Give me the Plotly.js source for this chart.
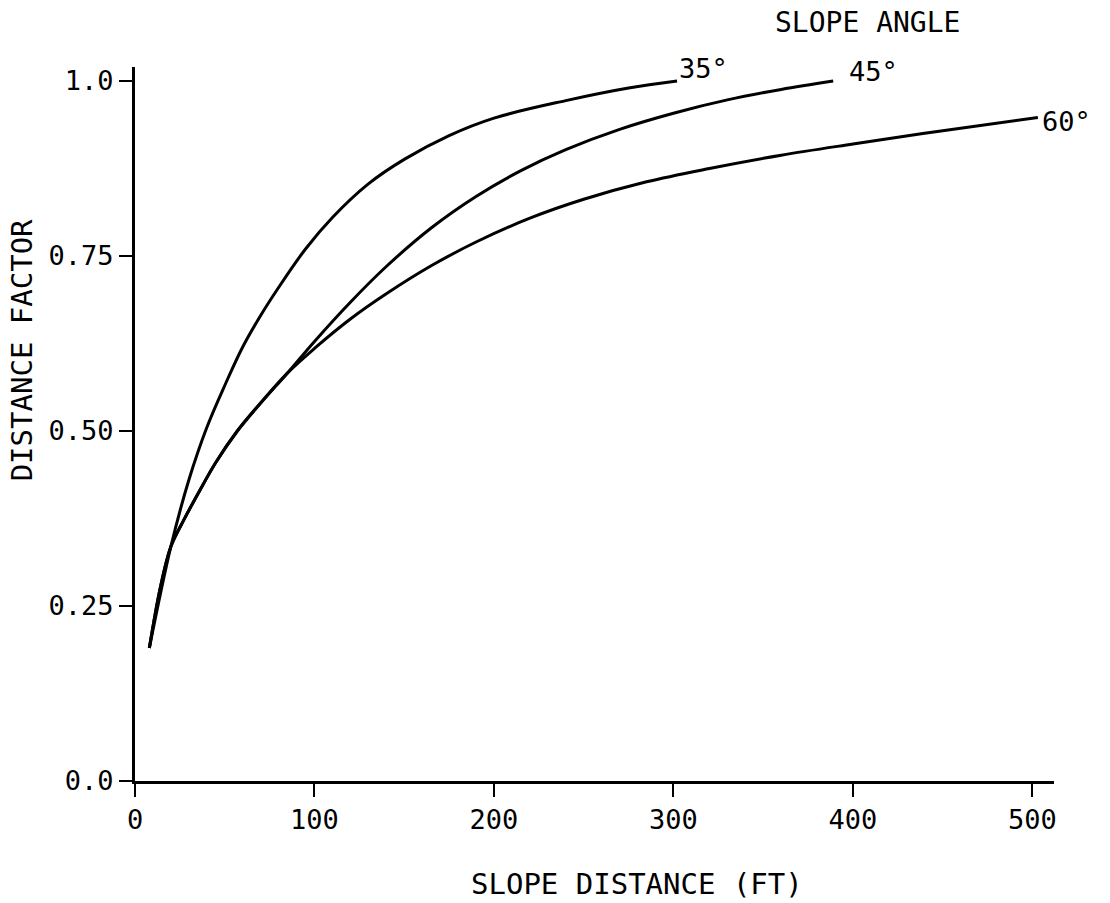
<!DOCTYPE html>
<html>
<head>
<meta charset="utf-8">
<script src="https://cdn.plot.ly/plotly-3.0.1.min.js"></script>
<style>html,body{margin:0;padding:0;background:#fff;}#chart{width:1110px;height:903px;}</style>
</head>
<body>
<div id="chart"></div>
<script>
// Slope distance (ft) and distance factor
const x35 = [8, 20, 30, 40, 50, 60, 70, 80, 95, 110, 130, 150, 175, 200, 240, 275, 302];
const y35 = [0.19, 0.335, 0.43, 0.505, 0.565, 0.62, 0.665, 0.705, 0.76, 0.805, 0.853, 0.888, 0.922, 0.947, 0.972, 0.99, 1.0];

const x45 = [8, 14, 20, 27, 35, 45, 57, 70, 85, 100, 120, 140, 165, 190, 215, 240, 270, 300, 330, 360, 389];
const y45 = [0.19, 0.275, 0.335, 0.372, 0.41, 0.455, 0.50, 0.54, 0.583, 0.628, 0.684, 0.735, 0.79, 0.835, 0.872, 0.902, 0.931, 0.954, 0.973, 0.988, 1.0];

const x60 = [8, 14, 20, 27, 35, 45, 57, 70, 85, 100, 120, 140, 165, 190, 220, 250, 285, 320, 360, 400, 450, 503];
const y60 = [0.19, 0.275, 0.335, 0.372, 0.41, 0.455, 0.50, 0.54, 0.583, 0.618, 0.66, 0.696, 0.736, 0.77, 0.804, 0.831, 0.856, 0.875, 0.894, 0.91, 0.929, 0.948];

const seriesNames = ["35°", "45°", "60°"];
const xTicks = [0, 100, 200, 300, 400, 500];
const xTickText = ["0", "100", "200", "300", "400", "500"];
const yTicks = [0, 0.25, 0.5, 0.75, 1.0];
const yTickText = ["0.0", "0.25", "0.50", "0.75", "1.0"];
const xTitle = "SLOPE DISTANCE (FT)";
const yTitle = "DISTANCE FACTOR";
const legendTitle = "SLOPE ANGLE";

const FONT = "DejaVu Sans Mono, Liberation Mono, monospace";
const lineStyle = {color: "#000", width: 3, shape: "spline", smoothing: 1};

const data = [
  {x: x35, y: y35, name: seriesNames[0], mode: "lines", line: lineStyle, hoverinfo: "skip"},
  {x: x45, y: y45, name: seriesNames[1], mode: "lines", line: lineStyle, hoverinfo: "skip"},
  {x: x60, y: y60, name: seriesNames[2], mode: "lines", line: lineStyle, hoverinfo: "skip"}
];

const ends = [[x35, y35], [x45, y45], [x60, y60]];
const shifts = [[0, 13], [14, 10], [2, -4]];
const annotations = ends.map((e, i) => ({
  x: e[0][e[0].length - 1], y: e[1][e[1].length - 1], xref: "x", yref: "y",
  text: seriesNames[i], showarrow: false, xanchor: "left", yanchor: "middle",
  xshift: shifts[i][0], yshift: shifts[i][1],
  font: {family: FONT, size: 27, color: "#000"}
}));
annotations.push({
  x: 0.797, y: 1.063, xref: "paper", yref: "paper", text: legendTitle,
  showarrow: false, xanchor: "center", yanchor: "middle",
  font: {family: FONT, size: 28, color: "#000"}
});
// axis titles (placed as in the reference, off-centre)
annotations.push({
  x: 0.546, y: -0.144, xref: "paper", yref: "paper", text: xTitle,
  showarrow: false, xanchor: "center", yanchor: "middle",
  font: {family: FONT, size: 29, color: "#000"}
});
annotations.push({
  x: -0.122, y: 0.603, xref: "paper", yref: "paper", text: yTitle, textangle: -90,
  showarrow: false, xanchor: "center", yanchor: "middle",
  font: {family: FONT, size: 29, color: "#000"}
});

const layout = {
  width: 1110, height: 903,
  margin: {l: 135, r: 56, t: 67, b: 122},
  paper_bgcolor: "#fff", plot_bgcolor: "#fff",
  showlegend: false,
  font: {family: FONT, size: 27, color: "#000"},
  xaxis: {
    range: [0, 512], showgrid: false, zeroline: false,
    showline: true, linecolor: "#000", linewidth: 3,
    ticks: "outside", ticklen: 13, tickwidth: 2, tickcolor: "#000",
    tickvals: xTicks, ticktext: xTickText,
    tickfont: {family: FONT, size: 27, color: "#000"}
  },
  yaxis: {
    range: [0, 1.02], showgrid: false, zeroline: false,
    showline: true, linecolor: "#000", linewidth: 3,
    ticks: "outside", ticklen: 13, tickwidth: 2, tickcolor: "#000",
    tickvals: yTicks, ticktext: yTickText,
    tickfont: {family: FONT, size: 27, color: "#000"}
  },
  annotations: annotations
};

Plotly.newPlot("chart", data, layout, {staticPlot: true, displayModeBar: false});
</script>
</body>
</html>
